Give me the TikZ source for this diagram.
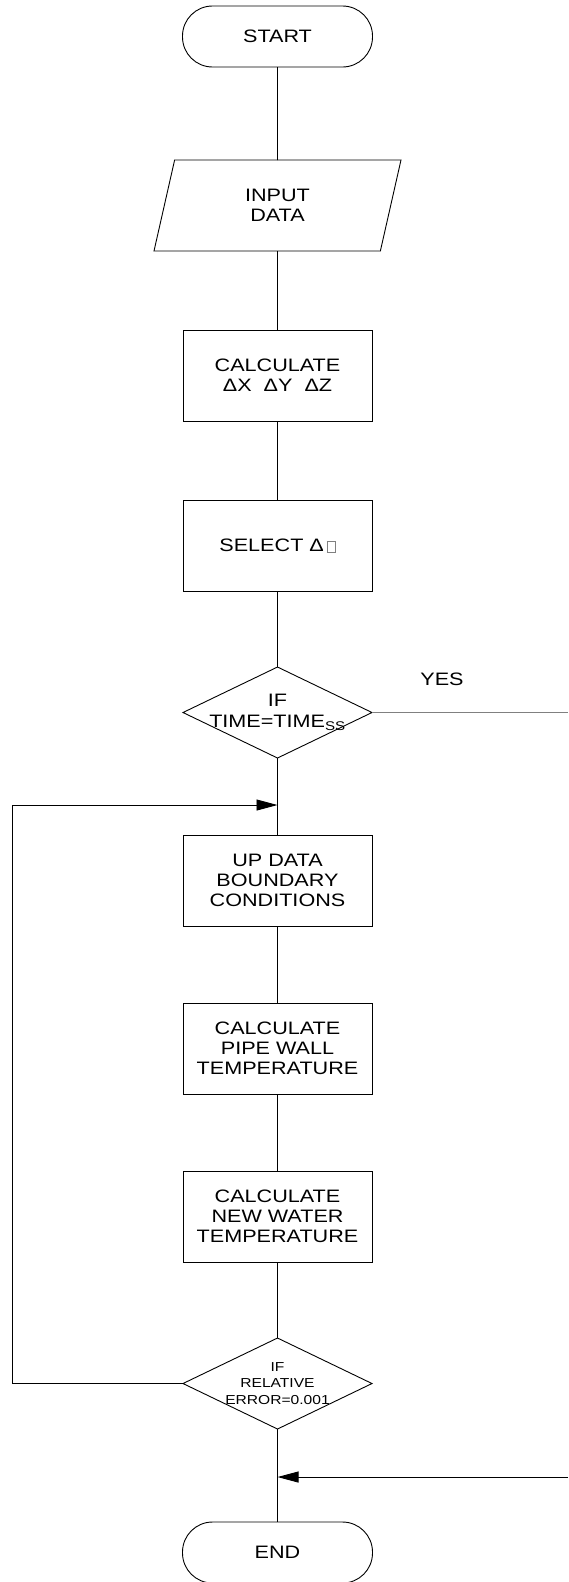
\documentclass[tikz,border=0pt]{standalone}
\usepackage{fontspec}
\usepackage{xcolor}
\usepackage{tikz}
\usetikzlibrary{arrows.meta,positioning,shapes.geometric}
\newfontfamily\chartfont[FakeStretch=1.2]{Liberation Sans}
\newcommand{\nochar}{\textcolor{gray}{\setlength{\fboxsep}{0pt}\setlength{\fboxrule}{0.6pt}\fbox{\rule{0pt}{10pt}\hspace{7.5pt}}}}

\begin{document}
\begin{tikzpicture}[x=1pt, y=1pt,
  every node/.style={font=\chartfont\fontsize{18}{20}\selectfont, align=center},
  term/.style={draw=black, line width=0.9pt, outer sep=0pt, rounded corners=30pt, minimum width=190pt, minimum height=61pt, inner sep=0pt},
  io/.style={draw=black, line width=0.9pt, outer sep=0pt, trapezium, trapezium left angle=57.5, trapezium right angle=122.5,
             trapezium stretches body, minimum width=247pt, minimum height=91pt, inner sep=0pt},
  proc/.style={draw=black, line width=0.9pt, outer sep=0pt, rectangle, minimum width=189pt, minimum height=91pt, inner sep=0pt},
  decide/.style={draw=black, line width=0.9pt, outer sep=0pt, diamond, minimum width=189pt, minimum height=91pt, inner sep=0pt},
  dlbl/.style={font=\chartfont\fontsize{18}{21}\selectfont, align=center, inner sep=0pt},
  slbl/.style={font=\chartfont\fontsize{13}{16.5}\selectfont, align=center, inner sep=0pt},
  link/.style={line width=0.9pt, black},
  arr/.style={-{Triangle[length=21pt, width=11pt]}, line width=0.9pt, black},
  yes/.style={line width=1.2pt, black!50}
]
  \useasboundingbox (0,0) rectangle (568,-1582);

  \node[term] (start) at (277.5,-36.5) {START};
  \node[io, below=93pt of start] (input) {INPUT\\DATA};
  \node[proc, below=79pt of input] (dxyz) {CALCULATE\\ΔX~~ΔY~~ΔZ};
  \node[proc, below=79pt of dxyz] (dt) {SELECT Δ\,\nochar};
  \node[decide, below=76pt of dt,
        label={[dlbl]center:IF\\TIME=TIME\textsubscript{SS}}] (steady) {};
  \node[proc, below=77pt of steady] (bound) {UP DATA\\BOUNDARY\\CONDITIONS};
  \node[proc, below=77pt of bound] (wall) {CALCULATE\\PIPE WALL\\TEMPERATURE};
  \node[proc, below=77pt of wall] (water) {CALCULATE\\NEW WATER\\TEMPERATURE};
  \node[decide, below=76pt of water,
        label={[slbl]center:IF\\RELATIVE\\ERROR=0.001}] (conv) {};
  \node[term, below=93pt of conv] (end) {END};

  \node (yeslbl) at (442,-679) {YES};

  % loop return and side entries
  \coordinate (loopin) at ([yshift=30pt]bound.north);
  \coordinate (rail) at (12,0);
  \coordinate (yesout) at (steady.east -| 568,0);
  \coordinate (joinin) at ([yshift=45pt]end.north);
  \coordinate (joinout) at (joinin -| 568,0);

  \draw[link] (start) -- (input);
  \draw[link] (input) -- (dxyz);
  \draw[link] (dxyz) -- (dt);
  \draw[link] (dt) -- (steady);
  \draw[link] (steady) -- (bound);
  \draw[link] (bound) -- (wall);
  \draw[link] (wall) -- (water);
  \draw[link] (water) -- (conv);
  \draw[link] (conv) -- (end);
  \draw[yes] (steady.east) -- (yesout);
  \draw[arr] (conv.west) -- (conv.west -| rail) |- (loopin);
  \draw[arr] (joinout) -- (joinin);
\end{tikzpicture}
\end{document}
